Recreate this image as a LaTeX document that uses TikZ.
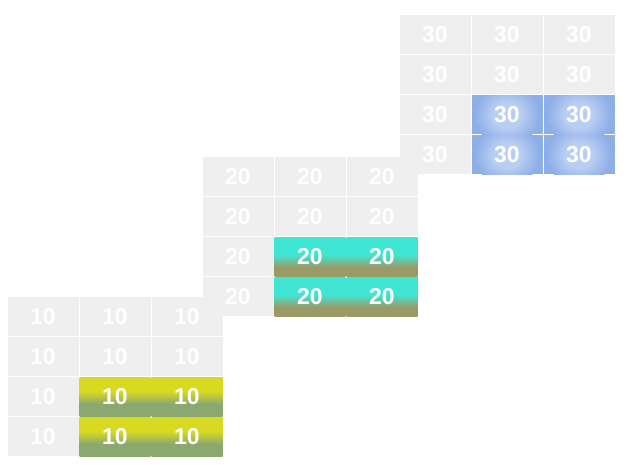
\documentclass[tikz,border=0pt]{standalone}
\usepackage{fontspec}
\setmainfont{Liberation Sans}
\definecolor{cellgray}{HTML}{EEEFEE}
\definecolor{cyantop}{HTML}{40E6D4}
\definecolor{cyanbot}{HTML}{9A9A66}
\definecolor{yeltop}{HTML}{D8DA22}
\definecolor{yelbot}{HTML}{8AA870}
\definecolor{bluebase}{HTML}{8EAEE8}
\definecolor{bluelight}{HTML}{B8CEF2}
\pgfdeclareverticalshading{fade20}{100bp}{color(0bp)=(cyanbot); color(37bp)=(cyanbot); color(53bp)=(cyantop); color(100bp)=(cyantop)}
\pgfdeclareverticalshading{fade10}{100bp}{color(0bp)=(yelbot); color(41bp)=(yelbot); color(57bp)=(yeltop); color(100bp)=(yeltop)}
\pgfdeclareradialshading{glow30}{\pgfpoint{0bp}{0bp}}{color(0bp)=(bluelight); color(10bp)=(bluelight); color(23bp)=(bluebase); color(50bp)=(bluebase)}
\tikzset{
  cell/.style={fill=cellgray, minimum width=71pt, minimum height=39pt, inner sep=0pt,
    text=white, font=\bfseries\fontsize{23}{26}\selectfont},
  hot10/.style={shade, shading=fade10},
  hot20/.style={shade, shading=fade20},
  hot30/.style={fill=bluebase, path picture={
    \shade[shading=glow30] (path picture bounding box.center) circle (32pt);}}
}
\begin{document}
\begin{tikzpicture}[x=1pt,y=-1pt]
  \useasboundingbox (0,0) rectangle (633,465);
  % three grids, back to front
  \foreach \v/\gx/\gy in {30/399/15, 20/202/157, 10/7/297}
    \foreach \r in {1,...,4}
      \foreach \c in {1,...,3}{
        \pgfmathtruncatemacro\hot{and(\r>2,\c>1)}
        \ifnum\hot=1
          \node[cell, hot\v] (g\v-\r-\c) at ({\gx+72*\c-36}, {\gy+40*\r-20}) {\v};
        \else
          \node[cell] (g\v-\r-\c) at ({\gx+72*\c-36}, {\gy+40*\r-20}) {\v};
        \fi
      }
\end{tikzpicture}
\end{document}
